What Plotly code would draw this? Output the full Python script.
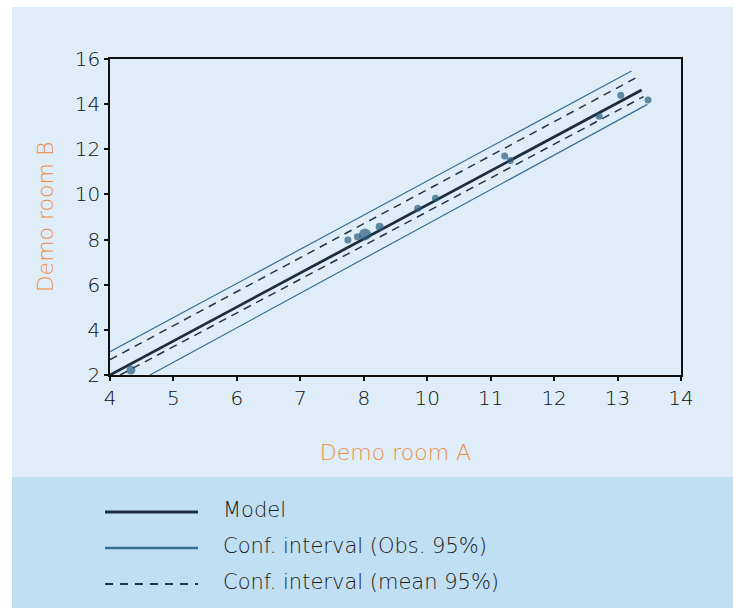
import plotly.graph_objects as go

# ---- data (axis-position units; x tick labels skip "9" as in the source) ----
x_tickvals = [4, 5, 6, 7, 8, 9, 10, 11, 12, 13]
x_ticktext = ["4", "5", "6", "7", "8", "10", "11", "12", "13", "14"]
y_tickvals = [2, 4, 6, 8, 10, 12, 14, 16]

obs_x = [4.33, 7.75, 7.90, 8.02, 8.25, 8.85, 9.13, 10.22, 10.31, 11.71, 12.05, 12.48]
obs_y = [2.22, 7.98, 8.13, 8.23, 8.57, 9.39, 9.83, 11.70, 11.50, 13.46, 14.39, 14.18]
obs_size = [9, 7, 7, 12, 8, 7, 7, 7, 7, 7, 7, 7]

model_x = [4.0, 12.38]
model_y = [2.0, 14.63]

obs_ci_up_x = [4.0, 12.22]
obs_ci_up_y = [3.03, 15.47]
obs_ci_lo_x = [4.63, 12.47]
obs_ci_lo_y = [2.0, 13.99]

mean_ci_up_x = [4.0, 12.28]
mean_ci_up_y = [2.68, 15.15]
mean_ci_lo_x = [4.16, 12.41]
mean_ci_lo_y = [2.0, 14.33]

legend_labels = ["Model", "Conf. interval (Obs. 95%)", "Conf. interval (mean 95%)"]

# ---- styles ----
MODEL_C = "#1d2d3e"
OBS_C = "#3b6d8e"
DASH_C = "#263444"
PT_C = "#285c7d"
ORANGE = "#f08c45"
PANEL = "#deedf8"
LEG_PANEL = "#c1dff3"
FONT = "DejaVu Sans"
WEIGHT = 200

W, H = 733, 608
L, R, T, B = 110, 52, 59, 233
pw, ph = W - L - R, H - T - B


def px(x):
    return (x - L) / pw


def py(y):
    return (H - B - y) / ph


fig = go.Figure()
fig.add_trace(go.Scatter(x=obs_ci_up_x, y=obs_ci_up_y, mode="lines",
                         line=dict(color=OBS_C, width=1.2), name=legend_labels[1]))
fig.add_trace(go.Scatter(x=obs_ci_lo_x, y=obs_ci_lo_y, mode="lines",
                         line=dict(color=OBS_C, width=1.2), showlegend=False))
fig.add_trace(go.Scatter(x=mean_ci_up_x, y=mean_ci_up_y, mode="lines",
                         line=dict(color=DASH_C, width=1.5, dash="8px,6px"), name=legend_labels[2]))
fig.add_trace(go.Scatter(x=mean_ci_lo_x, y=mean_ci_lo_y, mode="lines",
                         line=dict(color=DASH_C, width=1.5, dash="8px,6px"), showlegend=False))
fig.add_trace(go.Scatter(x=model_x, y=model_y, mode="lines",
                         line=dict(color=MODEL_C, width=2.8), name=legend_labels[0]))
fig.add_trace(go.Scatter(x=obs_x, y=obs_y, mode="markers",
                         marker=dict(color=PT_C, size=obs_size, line=dict(width=0)),
                         showlegend=False))

shapes = [
    # white outer strips (top and left)
    dict(type="rect", xref="paper", yref="paper", x0=px(-5), x1=px(W + 5), y0=py(7), y1=py(-5),
         fillcolor="white", line_width=0, layer="below"),
    dict(type="rect", xref="paper", yref="paper", x0=px(-5), x1=px(12), y0=py(-5), y1=py(H + 5),
         fillcolor="white", line_width=0, layer="below"),
    # legend panel
    dict(type="rect", xref="paper", yref="paper", x0=px(12), x1=px(W + 5), y0=py(477), y1=py(H + 5),
         fillcolor=LEG_PANEL, line_width=0, layer="below"),
]

leg_rows = [512, 548, 584]
leg_styles = [
    dict(color=MODEL_C, width=2.8),
    dict(color=OBS_C, width=2.4),
    dict(color=DASH_C, width=2.2, dash="8px,7px"),
]
annotations = []
for yrow, st, lab in zip(leg_rows, leg_styles, legend_labels):
    shapes.append(dict(type="line", xref="paper", yref="paper", x0=px(105), x1=px(198),
                       y0=py(yrow), y1=py(yrow), line=st))
    annotations.append(dict(xref="paper", yref="paper", x=px(221), y=py(yrow - 2),
                            text=lab, showarrow=False, xanchor="left", yanchor="middle",
                            font=dict(family=FONT, size=21, weight=WEIGHT, color="#1a1a1a")))

tickfont = dict(family=FONT, size=20, weight=WEIGHT, color="#0d0d0d")
fig.update_layout(
    width=W, height=H,
    margin=dict(l=L, r=R, t=T, b=B),
    paper_bgcolor=PANEL, plot_bgcolor=PANEL,
    showlegend=False,
    shapes=shapes, annotations=annotations,
    font=dict(family=FONT, color="#333333"),
    xaxis=dict(range=[4, 13], tickvals=x_tickvals, ticktext=x_ticktext,
               showgrid=False, zeroline=False, showline=True, linecolor="#111111", linewidth=1.5,
               mirror=True, ticks="outside", ticklen=4, tickwidth=2, tickcolor="#111111",
               tickfont=tickfont,
               title=dict(text="Demo room A", font=dict(family=FONT, size=22, weight=WEIGHT, color=ORANGE),
                          standoff=36)),
    yaxis=dict(range=[2, 16], tickvals=y_tickvals,
               showgrid=False, zeroline=False, showline=True, linecolor="#111111", linewidth=1.5,
               mirror=True, ticks="outside", ticklen=4, tickwidth=2, tickcolor="#111111",
               tickfont=tickfont,
               title=dict(text="Demo room B", font=dict(family=FONT, size=22, weight=WEIGHT, color=ORANGE),
                          standoff=15)),
)

fig.write_html("out.html", config={"displayModeBar": False},
               post_script="document.body.style.margin='0px';")
